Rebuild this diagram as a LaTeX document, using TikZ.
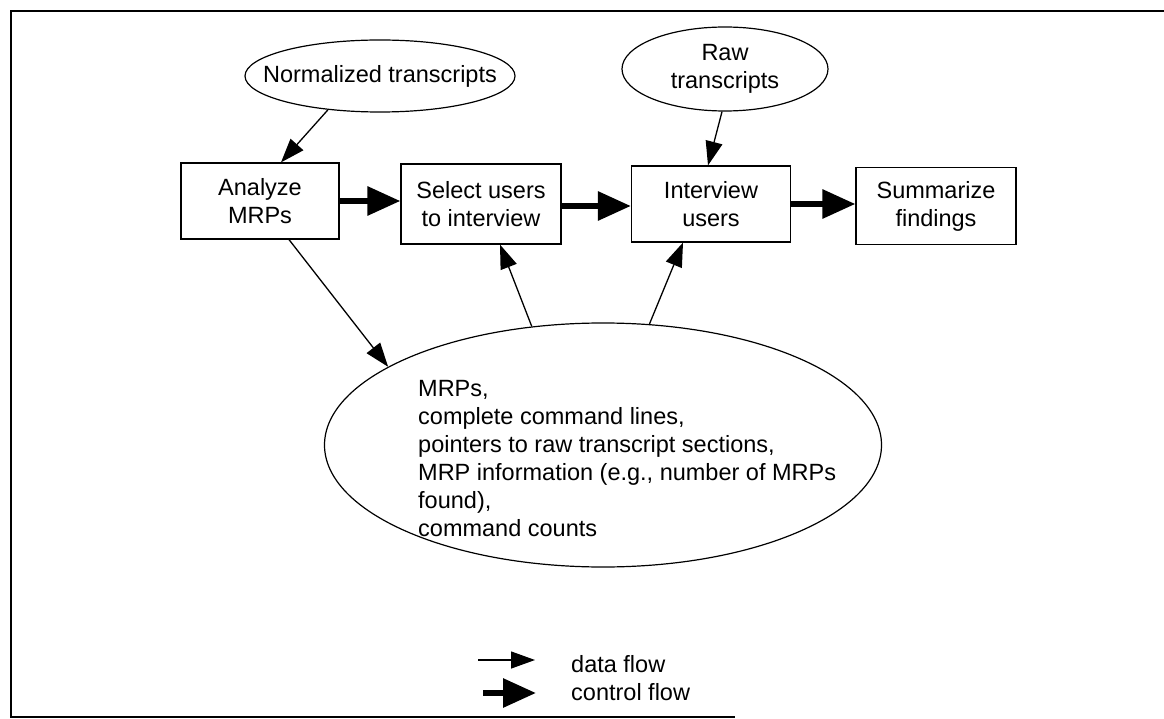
\documentclass[tikz,border=0pt]{standalone}
\usepackage{fontspec}
\setmainfont{Liberation Sans}
\usetikzlibrary{shapes.geometric,arrows.meta}
\tikzset{
  procbox/.style={draw, line width=1.2pt, rectangle, inner sep=0pt, align=center},
  storeell/.style={draw, line width=1.2pt, ellipse, inner sep=0pt},
  txt/.style={inner sep=0pt, align=center, font=\fontsize{23.5}{28}\selectfont},
  dataflow/.style={line width=1.3pt, -{Triangle[length=24pt,width=17pt]}},
  ctrlflow/.style={line width=6pt, -{Triangle[length=33pt,width=28pt]}},
  frameline/.style={line width=2.5pt}
}
\begin{document}
\begin{tikzpicture}[x=1pt,y=-1pt]
\useasboundingbox (0,0) rectangle (1164,719);
% frame
\draw[frameline] (1164,11) -- (11,11) -- (11,717) -- (735,717);
% stores
\node[storeell, minimum width=270pt, minimum height=72pt] (norm) at (380,76) {};
\node[txt] (normt) at (norm.center) {Normalized transcripts};
\node[storeell, minimum width=206pt, minimum height=84pt] (raw) at (725,69) {};
\node[txt] (rawt) at (raw.center) {Raw\\transcripts};
\node[storeell, minimum width=557pt, minimum height=244pt] (big) at (603,445) {};
\node[txt, align=left, anchor=west] (bigt) at (418,459) {MRPs,\\complete command lines,\\pointers to raw transcript sections,\\MRP information (e.g., number of MRPs\\found),\\command counts};
% processes
\node[procbox, minimum width=158pt, minimum height=76pt] (analyze) at (260,201) {};
\node[txt] (analyzet) at (analyze.center) {Analyze\\MRPs};
\node[procbox, minimum width=160pt, minimum height=80pt] (select) at (481,204) {};
\node[txt] (selectt) at (select.center) {Select users\\to interview};
\node[procbox, minimum width=159pt, minimum height=76pt] (interview) at (711,204) {};
\node[txt] (interviewt) at (interview.center) {Interview\\users};
\node[procbox, minimum width=160pt, minimum height=77pt] (summ) at (936,206) {};
\node[txt] (summt) at (summ.center) {Summarize\\findings};
% data flow
\draw[dataflow] (norm.213) -- ([xshift=21pt]analyze.north);
\draw[dataflow] (raw.266) -- ([xshift=-3pt]interview.north);
\draw[dataflow] ([xshift=29pt]analyze.south) -- (big.160);
\draw[dataflow] (big.121) -- ([xshift=19pt]select.south);
\draw[dataflow] (big.69) -- ([xshift=-28pt]interview.south);
% control flow
\draw[ctrlflow] (analyze.east) -- (analyze.east -| select.west);
\draw[ctrlflow] ([yshift=-2pt]select.east) -- ([yshift=-2pt]select.east -| interview.west);
\draw[ctrlflow] (interview.east) -- (interview.east -| summ.west);
% legend
\coordinate (d1) at (478,660);
\coordinate (d2) at (535,660);
\coordinate (c1) at (483,693);
\coordinate (c2) at (536,693);
\draw[dataflow] (d1) -- (d2);
\draw[ctrlflow] (c1) -- (c2);
\node[txt, anchor=west] (dlab) at (571,664) {data flow};
\node[txt, anchor=west] (clab) at (571,692) {control flow};
\end{tikzpicture}
\end{document}
